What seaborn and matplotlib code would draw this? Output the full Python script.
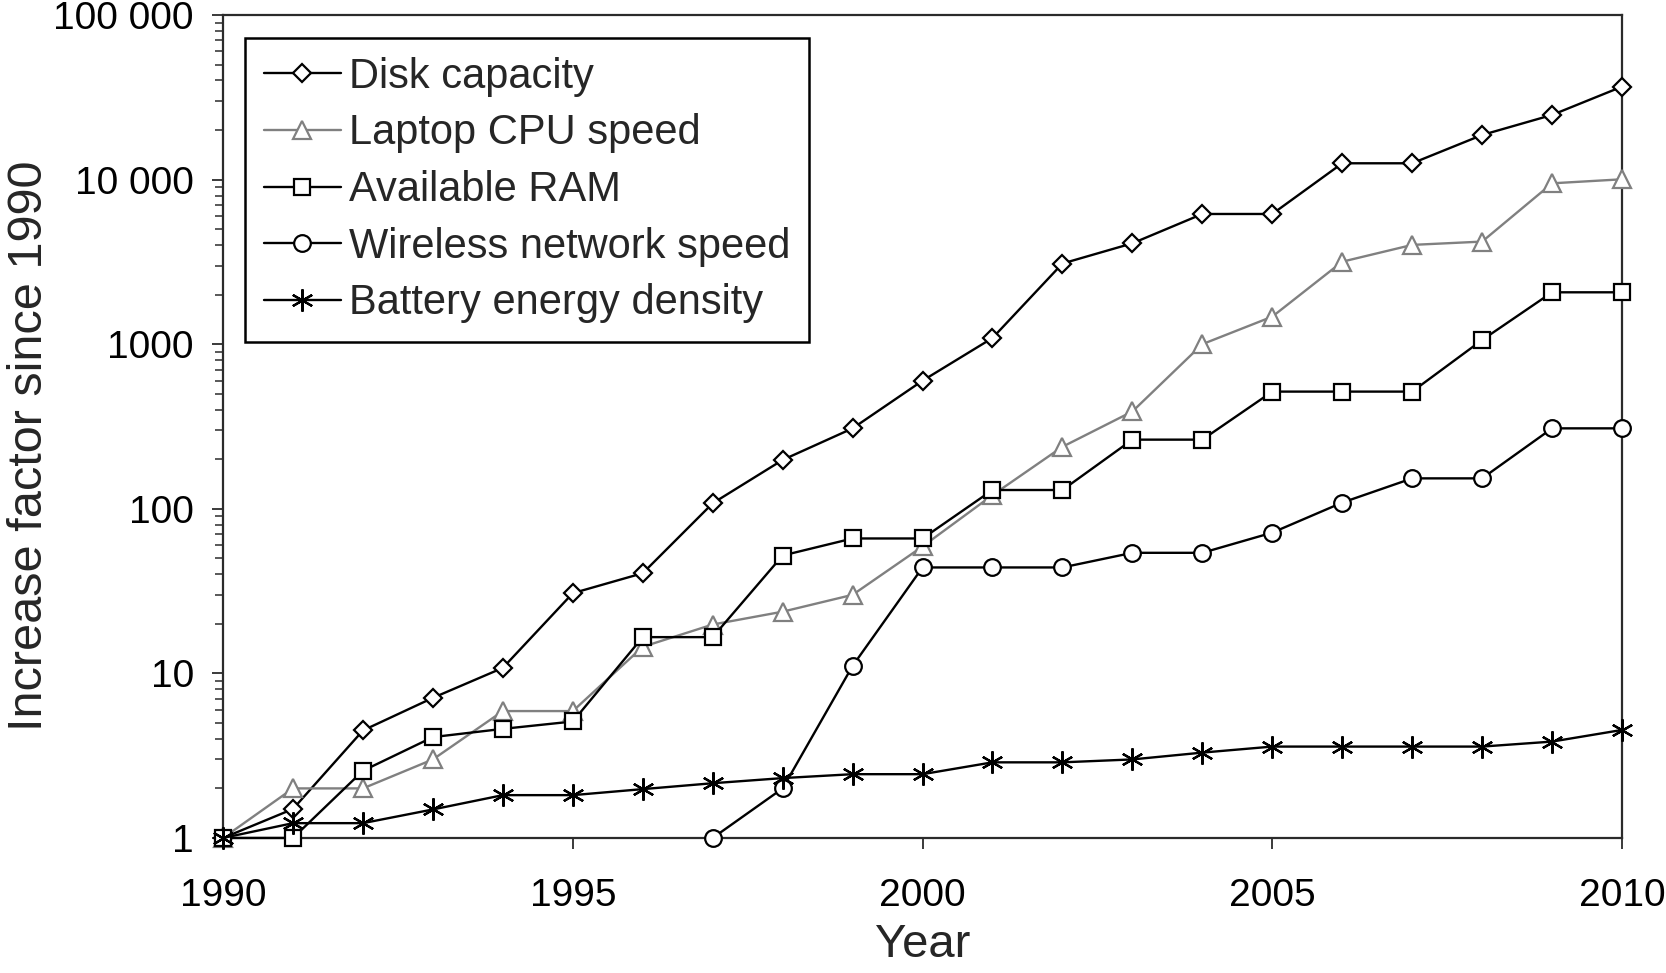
#!/usr/bin/env python3

from matplotlib import pyplot as plt
from matplotlib.ticker import LogLocator, NullFormatter
import seaborn as sns

# Values (increase factor since 1990)

years = list(range(1990, 2011))
disk = [
        1, 1.5, 4.5, 7.1, 10.8, 30.7, 40.6, 108, 198, 308, 600,
        1090, 3090, 4100, 6180, 6180, 12560, 12560, 18660, 24700, 36700,
        ]
cpu = [
        1, 2.0, 2.0, 3.0, 5.9, 5.9, 14.5, 19.8, 23.7, 30, 59,
        121, 238, 390, 1000, 1470, 3170, 4010, 4200, 9490, 10040,
        ]
ram = [
        1, 1.0, 2.56, 4.1, 4.6, 5.1, 16.6, 16.6, 52, 66, 66,
        130, 130, 263, 263, 515, 515, 515, 1060, 2066, 2066,
        ]
wireless_years = list(range(1997, 2011))
wireless = [1, 2.0, 11.1, 44, 44, 44, 54, 54, 71.6, 109, 153, 153, 308, 308]
battery = [
        1, 1.23, 1.23, 1.49, 1.82, 1.82, 1.98, 2.15, 2.31, 2.44, 2.44,
        2.88, 2.88, 3.0, 3.3, 3.59, 3.59, 3.59, 3.59, 3.85, 4.53,
        ]

labels = [
        "Disk capacity", "Laptop CPU speed", "Available RAM",
        "Wireless network speed", "Battery energy density",
        ]
ytick_vals = [1, 10, 100, 1000, 10000, 100000]
ytick_labels = ["1", "10", "100", "1000", "10 000", "100 000"]
xtick_vals = [1990, 1995, 2000, 2005, 2010]


def main():
    sns.set_style("ticks")
    plt.rcParams["font.family"] = ["Liberation Sans", "DejaVu Sans"]

    fig = plt.figure(figsize=(16.66, 9.73), dpi=100)
    ax = fig.add_axes([0.1339, 0.1388, 0.8397, 0.8458])

    series = [
            (years, disk, "black", "D", 9.5),
            (years, cpu, "#808080", "^", 13),
            (years, ram, "black", "s", 11.5),
            (wireless_years, wireless, "black", "o", 12),
            (years, battery, "black", (6, 2, 0), 16),
            ]

    for label, (x, y, color, marker, ms) in zip(labels, series):
        sns.lineplot(
                x=x, y=y, ax=ax, color=color, marker=marker, markersize=ms,
                markerfacecolor="white", markeredgecolor=color,
                markeredgewidth=1.6, linewidth=1.7, label=label,
                errorbar=None, clip_on=False, zorder=3,
                )

    ax.set_yscale("log")
    ax.set_xlim(1990, 2010)
    ax.set_ylim(1, 100000)
    ax.set_xticks(xtick_vals)
    ax.set_yticks(ytick_vals, labels=ytick_labels)
    ax.yaxis.set_minor_locator(LogLocator(base=10, subs=range(2, 10)))
    ax.yaxis.set_minor_formatter(NullFormatter())

    for side in ["left", "right", "top", "bottom"]:
        ax.spines[side].set_visible(True)
        ax.spines[side].set_color("#2b2b2b")
        ax.spines[side].set_linewidth(1.6)

    ax.tick_params(axis="both", which="major", direction="out", length=8,
                   width=1.3, color="#2b2b2b", labelsize=28,
                   labelcolor="black")
    ax.tick_params(axis="y", which="minor", direction="out", length=6,
                   width=1.1, color="#2b2b2b")
    ax.tick_params(axis="x", which="major", pad=21)
    ax.tick_params(axis="y", which="major", pad=13)

    # Keep the x label inside the figure
    ax.set_xlabel("Year", fontsize=34, labelpad=6)
    ax.set_ylabel("Increase factor since 1990", fontsize=35)
    ax.yaxis.set_label_coords(-0.122, 0.476)

    leg = ax.legend(
            loc="upper left", bbox_to_anchor=(0.0157, 0.972),
            borderaxespad=0, fontsize=30, frameon=True, fancybox=False,
            edgecolor="black", framealpha=1, handlelength=1.85,
            handletextpad=0.2, labelspacing=0.4, borderpad=0.45,
            )
    leg.get_frame().set_linewidth(1.8)

    plt.savefig("out.png", dpi=100)


if __name__ == "__main__":
    main()
